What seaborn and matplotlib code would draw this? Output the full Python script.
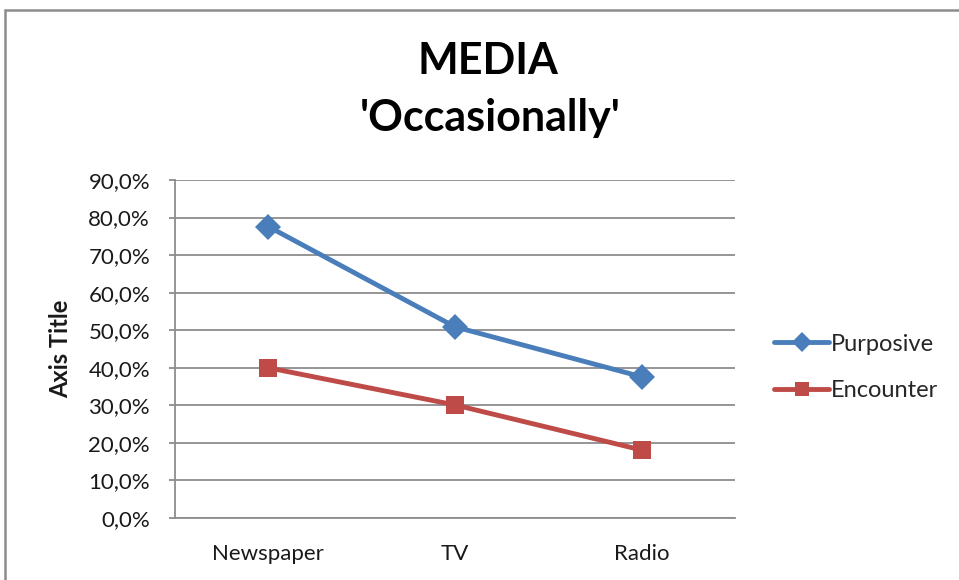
import matplotlib
matplotlib.use("Agg")
import matplotlib.pyplot as plt
import seaborn as sns
import pandas as pd
from matplotlib.ticker import FuncFormatter
from matplotlib.lines import Line2D

categories = ["Newspaper", "TV", "Radio"]
purposive = [77.6, 50.9, 37.6]
encounter = [40.0, 30.1, 18.1]
series_names = ["Purposive", "Encounter"]
y_ticks = [0, 10, 20, 30, 40, 50, 60, 70, 80, 90]

df = pd.DataFrame({
    "Media": categories * 2,
    "Value": purposive + encounter,
    "Series": [series_names[0]] * 3 + [series_names[1]] * 3,
})

sns.set_theme(style="white")
plt.rcParams["font.family"] = ["Lato", "DejaVu Sans"]

fig = plt.figure(figsize=(9.59, 5.8), dpi=100)
ax = fig.add_axes([175 / 959, 1 - 518 / 580, 560 / 959, 338 / 580])

blue = "#4A7EBB"
red = "#BE4B48"

sns.lineplot(data=df, x="Media", y="Value", hue="Series", style="Series",
             palette={"Purposive": blue, "Encounter": red},
             markers={"Purposive": "D", "Encounter": "s"}, dashes=False,
             linewidth=3.5, markersize=13.5, markeredgewidth=0, ax=ax, sort=False)

ax.set_xlim(-0.5, 2.5)
ax.set_ylim(0, 90)
ax.set_yticks(y_ticks)
ax.yaxis.set_major_formatter(FuncFormatter(lambda v, p: f"{v:.1f}%".replace(".", ",")))
ax.grid(axis="y", color="#8c8c8c", linewidth=1.3)
ax.set_axisbelow(True)
for s in ["top", "right"]:
    ax.spines[s].set_visible(False)
for s in ["left", "bottom"]:
    ax.spines[s].set_color("#8c8c8c")
    ax.spines[s].set_linewidth(1.3)
ax.tick_params(axis="y", which="major", direction="out", length=4, width=1.3,
               color="#8c8c8c", left=True, labelsize=16, pad=14, labelcolor="#1a1a1a")
ax.tick_params(axis="x", length=0, labelsize=16, pad=19, labelcolor="#1a1a1a")
ax.set_xlabel("")
ax.set_ylabel("Axis Title", fontsize=17, fontweight="bold", color="#1a1a1a")
ax.yaxis.set_label_coords(-0.184, 0.5)

handles, labels = ax.get_legend_handles_labels()
ax.legend_.remove()
fig.legend(handles, labels, loc="center left", bbox_to_anchor=(765 / 959, 1 - 367.5 / 580),
           frameon=False, fontsize=17, handlelength=2.3, handletextpad=0.1,
           labelspacing=1.1, borderaxespad=0, markerscale=0.75)

fig.text(488 / 959, 1 - 61 / 580, "MEDIA", ha="center", va="center",
         fontsize=31, fontweight="bold", color="black")
fig.text(490 / 959, 1 - 118 / 580, "'Occasionally'", ha="center", va="center",
         fontsize=31, fontweight="bold", color="black")

fig.add_artist(Line2D([4.5 / 959, 4.5 / 959, 1.0], [0.0, 1 - 9.5 / 580, 1 - 9.5 / 580],
                      transform=fig.transFigure, color="#8c8c8c", linewidth=1.8,
                      solid_joinstyle="miter", zorder=10))

fig.savefig("out.png", dpi=100)
